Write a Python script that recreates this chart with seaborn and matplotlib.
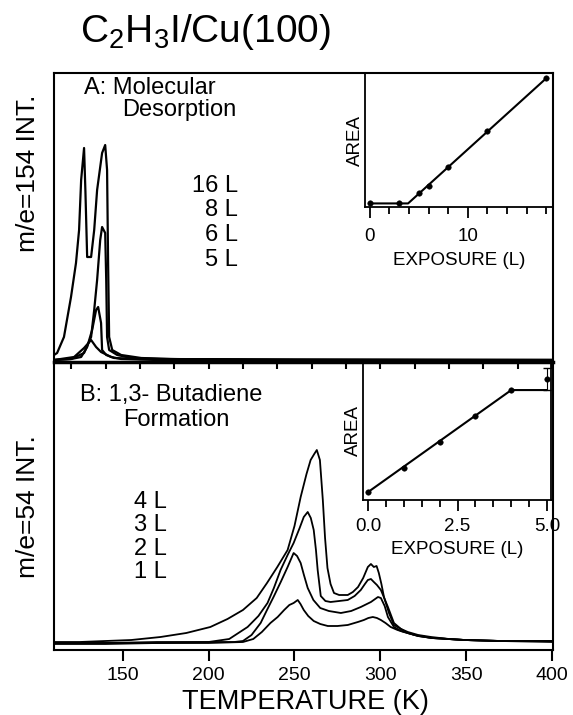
import seaborn as sns
import matplotlib.pyplot as plt

# panel A: m/e=154 traces (temperature K, intensity arb.)
t16 = [110, 111.8, 115.8, 119.9, 122.8, 124.6, 125.8, 127.5, 128.3, 129.3, 131.6, 133.4, 135.1, 138.0, 139.8, 140.9, 141.5, 142.1, 143.9, 149.1, 160.8, 178, 224, 300, 400]
i16 = [7, 9, 25, 65, 99, 132, 182, 214, 170, 105, 105, 132, 172, 209, 217, 192, 99, 25, 12, 7, 4, 3, 2, 2, 2]
t8 = [110, 120, 127.5, 131.6, 133.4, 135.1, 136.9, 138.0, 139.8, 140.4, 140.9, 142.1, 146.8, 155, 172, 250, 400]
i8 = [2, 3, 9, 25, 52, 82, 122, 135, 129, 82, 25, 12, 7, 4, 3, 2, 2]
t6 = [110, 120, 125.8, 129.3, 132.2, 134.5, 135.7, 137.4, 138.0, 140.4, 145, 160, 400]
i6 = [2, 3, 5, 15, 32, 52, 55, 39, 12, 7, 4, 3, 2]
t5 = [110, 121.7, 127.5, 131.6, 134.5, 137.4, 143.3, 149, 170, 400]
i5 = [2, 5, 14, 22, 15, 10, 5, 3, 2, 2]

# panel B: m/e=54 traces
t4 = [110, 125, 140, 155, 172, 187, 201, 211, 220, 228, 234, 240, 246, 250, 253.6, 257, 259.4, 261.5, 263, 264.8,
      266.5, 267.8, 269.2, 271, 273, 276, 281, 284, 287, 290, 292.7, 294.5, 296.2, 297.8, 299.1, 300.6, 302.1, 305,
      307.9, 312, 316, 322, 329.5, 340, 349, 370, 400]
i4 = [8, 8, 9, 10, 13, 17, 23, 31, 40, 52, 67, 83, 100, 124, 153, 176, 190, 196, 200, 190,
      150, 112, 82, 66, 57, 55, 55, 58, 63, 72, 83, 86, 83, 84, 77, 66, 53, 37,
      25, 21, 18, 15, 13, 11, 10, 9, 9]
t3 = [110, 140, 170, 200, 212, 222.7, 229, 234.3, 238, 241.9, 246, 249.5, 253, 255.4, 257.7, 259.5, 261.2, 262.5,
      263.5, 265.3, 268, 271, 276, 281, 285, 288.6, 291, 292.7, 294.5, 296.2, 298, 300.3, 302, 304.4, 307.9, 312,
      316, 322, 330, 349, 370, 400]
i3 = [7, 7, 8, 8, 11, 23, 34, 47, 62, 80, 95, 107, 122, 133, 138, 132, 120, 100,
      80, 54, 49, 48, 49, 50, 54, 60, 66, 70, 71, 68, 65, 60, 53, 43, 27, 21,
      17, 14, 12, 10, 9, 9]
t2 = [110, 140, 170, 200, 215, 220, 225, 230.3, 234, 237.8, 242, 246, 249.5, 251.5, 253.6, 255.5, 257.7, 261, 265,
      270, 277, 283, 288.6, 294.5, 298.6, 300.3, 302.5, 304.4, 307.9, 312, 316, 322, 330, 349, 370, 400]
i2 = [7, 7, 7, 8, 8, 9, 15, 27, 40, 53, 68, 83, 97, 94, 87, 75, 62, 50, 42,
      39, 37, 39, 43, 48, 53, 52, 44, 33, 23, 19, 17, 14, 12, 10, 9, 9]
t1 = [110, 140, 170, 200, 220, 226, 231, 236, 240.2, 244, 247, 249.5, 251.9, 253.5, 255.4, 258, 261.2, 265, 269.4,
      275, 281, 286.9, 290.4, 293, 295.6, 298, 300.3, 303, 306, 310, 313.7, 320, 330, 349, 370, 400]
i1 = [6, 6, 7, 7, 8, 11, 18, 27, 33, 40, 45, 47, 50, 46, 40, 34, 29, 26, 24,
      24, 25, 28, 30, 32, 33, 32, 30, 27, 23, 20, 18, 15, 12, 10, 9, 8]

# inset A: molecular desorption area vs exposure
exp_a = [0, 3, 5, 6, 8, 12, 18]
area_a = [0, 0, 1.2, 2.0, 4.1, 8.1, 14.0]
fit_a_x = [0, 3.9, 18]
fit_a_y = [0, 0, 14.0]

# inset B: butadiene area vs exposure
exp_b = [0, 1, 2, 3, 4, 5]
area_b = [0, 0.94, 1.96, 2.98, 4.0, 4.43]
err_b = 0.43
fit_b_x = [0, 4, 5]
fit_b_y = [0, 4.0, 4.0]

labels_a = ["16 L", "8 L", "6 L", "5 L"]
labels_b = ["4 L", "3 L", "2 L", "1 L"]
temp_ticks = [150, 200, 250, 300, 350, 400]

W, H = 573, 715


def px(x, y):
    return x / W, 1 - y / H


def box(l, t, r, b):
    return [l / W, 1 - b / H, (r - l) / W, (b - t) / H]


def main():
    sns.set_style("white")
    plt.rcParams['font.family'] = ['Liberation Sans', 'DejaVu Sans']
    plt.rcParams['mathtext.default'] = 'regular'
    plt.rcParams['text.color'] = 'black'
    plt.rcParams['axes.labelcolor'] = 'black'
    plt.rcParams['xtick.color'] = 'black'
    plt.rcParams['xtick.labelcolor'] = 'black'

    fig = plt.figure(figsize=(W / 100, H / 100), dpi=100)
    ax_b = fig.add_axes(box(54, 362, 553, 650))
    ax_a = fig.add_axes(box(54, 73, 553, 362))
    ins_b = fig.add_axes(box(363, 362, 551, 500))
    ins_a = fig.add_axes(box(365, 73, 553, 207))
    ax_a.set_zorder(5)
    ax_a.patch.set_alpha(0)

    for t, i in [(t16, i16), (t8, i8), (t6, i6), (t5, i5)]:
        sns.lineplot(x=t, y=i, ax=ax_a, color='black', lw=1.6)
    for t, i in [(t4, i4), (t3, i3), (t2, i2), (t1, i1)]:
        sns.lineplot(x=t, y=i, ax=ax_b, color='black', lw=1.3)

    for ax in (ax_a, ax_b):
        ax.set_xlim(110, 400.5)
        ax.set_yticks([])
        for s in ax.spines.values():
            s.set_color('black')
            s.set_linewidth(1.5)
    ax_a.set_ylim(0, 289)
    ax_b.set_ylim(0, 288)
    ax_a.spines['bottom'].set_linewidth(2.5)
    ax_b.spines['top'].set_visible(False)

    ax_a.set_xticks(range(120, 401, 20))
    ax_a.tick_params(axis='x', direction='out', length=5, width=1.5, labelbottom=False, bottom=True)
    ax_b.set_xticks(temp_ticks)
    ax_b.tick_params(axis='x', direction='out', length=8, width=1.5, labelsize=14, pad=4, bottom=True)

    # inset A
    sns.lineplot(x=fit_a_x, y=fit_a_y, ax=ins_a, color='black', lw=1.5)
    sns.scatterplot(x=exp_a, y=area_a, ax=ins_a, color='black', s=16, edgecolor='black', zorder=3)
    ins_a.set_xlim(-0.5, 18.7)
    ins_a.set_ylim(-0.4, 14.6)
    ins_a.set_xticks([0, 10])
    ins_a.set_xticklabels(["0", "10"])
    ins_a.set_xticks(range(0, 19, 2), minor=True)
    ins_a.set_yticks([])

    # inset B
    sns.lineplot(x=fit_b_x, y=fit_b_y, ax=ins_b, color='black', lw=1.5)
    sns.scatterplot(x=exp_b, y=area_b, ax=ins_b, color='black', s=16, edgecolor='black', zorder=3)
    ins_b.errorbar(exp_b[-1], area_b[-1], yerr=err_b, color='black', lw=0.8, capsize=3, fmt='none')
    ins_b.set_xlim(-0.14, 5.11)
    ins_b.set_ylim(-0.31, 5.1)
    ins_b.set_xticks([0, 2.5, 5.0])
    ins_b.set_xticklabels(["0.0", "2.5", "5.0"])
    ins_b.set_xticks([x * 0.5 for x in range(11)], minor=True)
    ins_b.set_yticks([])

    for ins, pad, lpad in ((ins_a, 7, 5), (ins_b, 5, 4)):
        ins.patch.set_alpha(0)
        for s in ins.spines.values():
            s.set_color('black')
            s.set_linewidth(1.3)
        ins.tick_params(axis='x', which='major', direction='out', length=8, width=1.3,
                        labelsize=13.5, pad=pad, bottom=True)
        ins.tick_params(axis='x', which='minor', direction='out', length=5, width=1.3, bottom=True)
        ins.set_xlabel("EXPOSURE (L)", fontsize=13.5, labelpad=lpad)
        ins.set_ylabel("AREA", fontsize=13.5, labelpad=1)

    # text
    fig.text(*px(80, 42), "C$_2$H$_3$I/Cu(100)", fontsize=28, ha='left', va='baseline')
    fig.text(*px(84, 88), "A: Molecular", fontsize=17, ha='left', va='center')
    fig.text(*px(122, 110), "Desorption", fontsize=17, ha='left', va='center')
    for k, lab in enumerate(labels_a):
        fig.text(*px(238, 186 + 24.5 * k), lab, fontsize=17, ha='right', va='center')
    fig.text(*px(80, 395), "B: 1,3- Butadiene", fontsize=17, ha='left', va='center')
    fig.text(*px(123, 420), "Formation", fontsize=17, ha='left', va='center')
    for k, lab in enumerate(labels_b):
        fig.text(*px(167, 502 + 23.3 * k), lab, fontsize=17, ha='right', va='center')
    fig.text(*px(28, 173), "m/e=154 INT.", fontsize=19, rotation=90, ha='center', va='center')
    fig.text(*px(28, 507), "m/e=54 INT.", fontsize=19, rotation=90, ha='center', va='center')
    fig.text(*px(305, 702), "TEMPERATURE (K)", fontsize=19.5, ha='center', va='center')

    fig.savefig("out.png", dpi=100, facecolor='white')


if __name__ == '__main__':
    main()
